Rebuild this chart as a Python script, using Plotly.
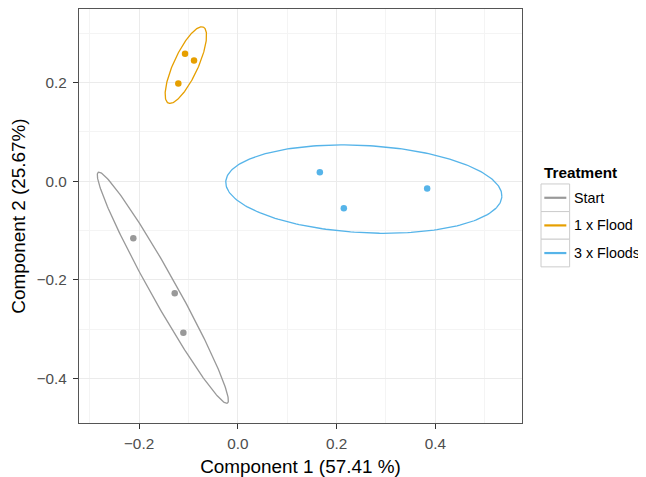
import numpy as np
import plotly.graph_objects as go

# ---- data ----
groups = ["Start", "1 x Flood", "3 x Floods"]
colors = ["#999999", "#E69F00", "#56B4E9"]

start_x = [-0.2116, -0.1277, -0.1102]
start_y = [-0.1156, -0.2272, -0.3071]
flood1_x = [-0.1068, -0.0886, -0.1204]
flood1_y = [0.2582, 0.2446, 0.1980]
flood3_x = [0.1662, 0.2148, 0.3836]
flood3_y = [0.0183, -0.0548, -0.0150]

# confidence ellipses (centre, semi-axes, rotation)
ell_cx = [-0.1518, -0.1052, 0.2553]
ell_cy = [-0.2160, 0.2353, -0.0160]
ell_a = [0.268, 0.0848, 0.280]
ell_b = [0.0262, 0.0247, 0.0884]
ell_deg = [-60.8, 65.3, -3.1]

x_ticks = [-0.2, 0.0, 0.2, 0.4]
y_ticks = [-0.4, -0.2, 0.0, 0.2]
x_title = "Component 1 (57.41 %)"
y_title = "Component 2 (25.67%)"
legend_title = "Treatment"

xs = [start_x, flood1_x, flood3_x]
ys = [start_y, flood1_y, flood3_y]

FONT = "Liberation Sans, Arial, Helvetica, sans-serif"

fig = go.Figure()

t = np.linspace(0, 2 * np.pi, 241)
for i, g in enumerate(groups):
    th = np.deg2rad(ell_deg[i])
    ex = ell_cx[i] + ell_a[i] * np.cos(t) * np.cos(th) - ell_b[i] * np.sin(t) * np.sin(th)
    ey = ell_cy[i] + ell_a[i] * np.cos(t) * np.sin(th) + ell_b[i] * np.sin(t) * np.cos(th)
    fig.add_trace(go.Scatter(x=ex, y=ey, mode="lines", name=g,
                             line=dict(color=colors[i], width=1.3),
                             showlegend=False, hoverinfo="skip"))
for i, g in enumerate(groups):
    fig.add_trace(go.Scatter(x=xs[i], y=ys[i], mode="markers", name=g,
                             marker=dict(color=colors[i], size=6.5),
                             showlegend=False))

# ---- geometry (page body has an 8px margin) ----
OFF = 8
W, H = 646 - OFF, 477 - OFF
L, T = 79 - OFF, 9.3 - OFF
pw, ph = 442.7, 413.4
R = W - L - pw
B = H - T - ph


def px2x(px):
    # px in window coordinates
    return (px - OFF - L) / pw


def px2y(py):
    return (T + ph - (py - OFF)) / ph


shapes = []
annotations = []
key_top = 184.0
key_h = 27.6
for i, g in enumerate(groups):
    y0 = key_top + i * key_h
    y1 = y0 + key_h
    shapes.append(dict(type="rect", xref="paper", yref="paper",
                       x0=px2x(540.7), x1=px2x(569.3), y0=px2y(y1), y1=px2y(y0),
                       line=dict(color="#cccccc", width=1), fillcolor="white", layer="above"))
    ym = px2y((y0 + y1) / 2)
    shapes.append(dict(type="line", xref="paper", yref="paper",
                       x0=px2x(544), x1=px2x(566), y0=ym, y1=ym,
                       line=dict(color=colors[i], width=2.2), layer="above"))
    annotations.append(dict(xref="paper", yref="paper", x=px2x(572), y=ym,
                            xanchor="left", yanchor="middle", showarrow=False,
                            text=g, font=dict(family=FONT, size=14.3, color="#000000")))
annotations.append(dict(xref="paper", yref="paper", x=px2x(542), y=px2y(172.3),
                        xanchor="left", yanchor="middle", showarrow=False,
                        text="<b>" + legend_title + "</b>",
                        font=dict(family=FONT, size=15.3, color="#000000")))

axis_common = dict(
    showgrid=True, gridcolor="#ebebeb", gridwidth=1,
    zeroline=False, showline=True, mirror=True, linecolor="#555555", linewidth=1.2,
    ticks="outside", ticklen=5, tickwidth=1, tickcolor="#333333",
    tickfont=dict(family=FONT, size=15.3, color="#4d4d4d"),
    minor=dict(showgrid=True, gridcolor="#f4f4f4", gridwidth=0.6),
)

fig.update_layout(
    width=W, height=H,
    margin=dict(l=L, r=R, t=T, b=B, autoexpand=False),
    paper_bgcolor="white", plot_bgcolor="white",
    showlegend=False,
    xaxis=dict(range=[-0.3216, 0.5757], tickvals=x_ticks,
               ticktext=["\u22120.2", "0.0", "0.2", "0.4"],
               minor_tickvals=[-0.3, -0.1, 0.1, 0.3, 0.5], minor_ticks="",
               ticklabelstandoff=2,
               title=dict(text=x_title, standoff=8,
                          font=dict(family=FONT, size=18.9, color="#000000")),
               **axis_common),
    yaxis=dict(range=[-0.490, 0.349], tickvals=y_ticks,
               ticktext=["\u22120.4", "\u22120.2", "0.0", "0.2"],
               minor_tickvals=[-0.3, -0.1, 0.1, 0.3], minor_ticks="",
               ticklabelstandoff=3,
               title=dict(text=y_title, standoff=12,
                          font=dict(family=FONT, size=18.9, color="#000000")),
               **axis_common),
    shapes=shapes, annotations=annotations,
)

fig.write_html("out.html")
